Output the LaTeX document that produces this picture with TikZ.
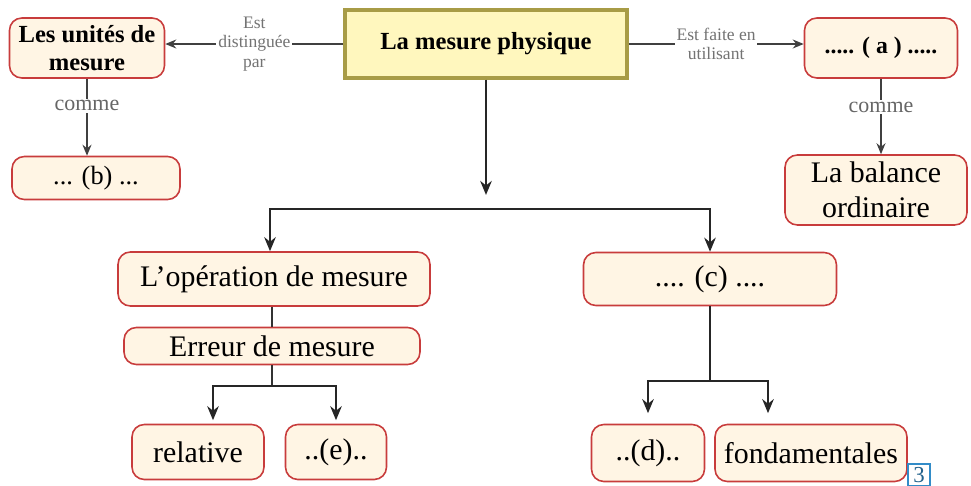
\documentclass[tikz,border=0pt]{standalone}
\usepackage{fontspec}
\setmainfont{Liberation Serif}
\usepackage{xcolor}
\usepackage{tikz}
\usetikzlibrary{positioning,arrows.meta,calc}

\begin{document}
\begin{tikzpicture}[
      x=0.02cm, y=-0.02cm,
      box/.style={rectangle, rounded corners=7pt, draw=mesred, fill=mescream, line width=0.9pt,
        align=center, inner sep=2pt, font=\fontsize{17}{20}\selectfont},
      titlebox/.style={rectangle, draw=mesolive, fill=mesyellow, line width=1.8pt,
        align=center, font=\bfseries\fontsize{14}{16}\selectfont},
      flow/.style={-{Stealth[length=2.8mm, width=2.3mm]}, line width=1.5pt, black!85},
      thin/.style={-{Stealth[length=2.2mm, width=1.8mm]}, line width=0.7pt, black!75},
      lbl/.style={font=\fontsize{10}{11}\selectfont, text=black!55, fill=white, align=center, inner sep=1pt},
      cmt/.style={font=\fontsize{12.5}{14}\selectfont, text=black!60, fill=white, inner sep=1pt},
    ]
    \definecolor{mesred}{RGB}{200,60,60}
    \definecolor{mescream}{RGB}{255,245,228}
    \definecolor{mesolive}{RGB}{168,156,70}
    \definecolor{mesyellow}{RGB}{255,247,190}
    \definecolor{mesblue}{RGB}{50,140,200}

    \useasboundingbox (0,0) rectangle (971,485);

    % haut
    \node[titlebox, minimum width=5.64cm, minimum height=1.36cm] (phys) at (486,44) {La mesure physique};
    \node[box, minimum width=3.1cm, minimum height=1.2cm, font=\bfseries\fontsize{14}{16}\selectfont] (unites) at (87,48) {Les unités de\\mesure};
    \node[box, minimum width=3.06cm, minimum height=1.2cm, font=\bfseries\fontsize{13.5}{15}\selectfont] (a) at (881,48) {..... ( a ) .....};
    \node[box, minimum width=3.36cm, minimum height=0.86cm, font=\fontsize{15}{17}\selectfont] (b) at (96,178) {... (b) ...};
    \node[box, minimum width=3.64cm, minimum height=1.4cm] (balance) at (876,190) {La balance\\ordinaire};

    % branche gauche
    \node[box, minimum width=6.24cm, minimum height=1.08cm] (oper) at (274,279) {L'opération de mesure};
    \node[box, minimum width=5.92cm, minimum height=0.74cm] (erreur) at (272,346) {Erreur de mesure};
    \node[box, minimum width=2.64cm, minimum height=1.1cm] (relative) at (198,452) {relative};
    \node[box, minimum width=2.02cm, minimum height=1.1cm] (e) at (336,452) {..(e)..};

    % branche droite
    \node[box, minimum width=5.06cm, minimum height=1.06cm] (c) at (710,279) {.... (c) ....};
    \node[box, minimum width=2.26cm, minimum height=1.14cm] (d) at (648,453) {..(d)..};
    \node[box, minimum width=3.84cm, minimum height=1.14cm] (fond) at (811,453) {fondamentales};

    \node[draw=mesblue, line width=0.8pt, text=mesblue!70!black, minimum size=0.44cm, inner sep=0pt,
      font=\fontsize{13}{14}\selectfont] (num) at (919,475) {3};

    \coordinate (hub) at (486,209);
    \coordinate (hubl) at (272,386);
    \coordinate (hubr) at (710,381);

    \draw[thin] (phys.west) -- node[lbl] {Est\\distinguée\\par} (phys.west -| unites.east);
    \draw[thin] (phys.east) -- node[lbl] {Est faite en\\utilisant} (phys.east -| a.west);
    \draw[thin] (unites.south) -- node[cmt, pos=0.35] {comme} (unites.south |- b.north);
    \draw[thin] (a.south) -- node[cmt, pos=0.38] {comme} (a.south |- balance.north);

    \draw[flow, shorten >=8pt] (phys.south) -- (hub);
    \draw[flow] (hub) -| ($(oper.north)+(-4,0)$);
    \draw[flow] (hub) -| (c.north);

    \draw[line width=0.9pt, black!80] (oper.south -| erreur.north) -- (erreur.north);
    \draw[line width=0.9pt, black!80] (erreur.south) -- (hubl);
    \draw[flow, shorten >=2pt] (hubl) -| ($(relative.north)+(15,0)$);
    \draw[flow, shorten >=2pt] (hubl) -| (e.north);

    \draw[line width=1.5pt, black!85] (c.south) -- (hubr);
    \draw[flow, shorten >=6pt] (hubr) -| (d.north);
    \draw[flow, shorten >=6pt] (hubr) -| ($(fond.north)+(-43,0)$);
  \end{tikzpicture}
\end{document}
